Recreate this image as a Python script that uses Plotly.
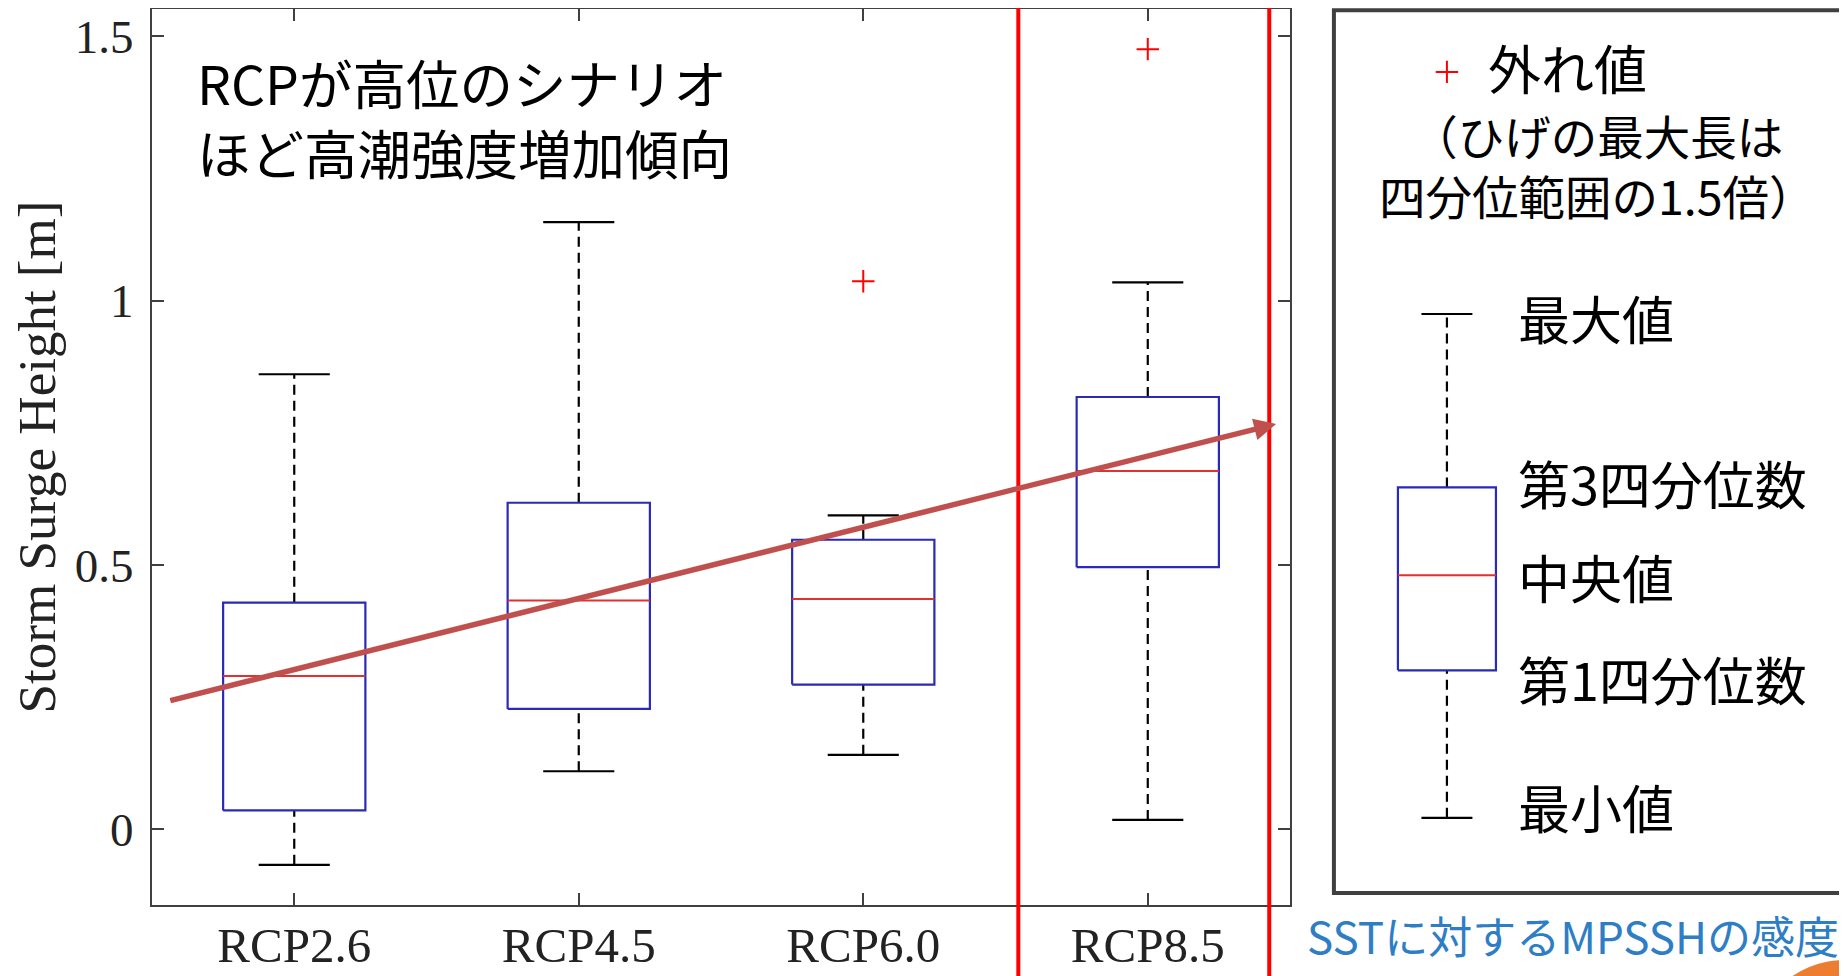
import plotly.graph_objects as go

# scenario boxes (Storm Surge Height [m])
scenarios = ["RCP2.6", "RCP4.5", "RCP6.0", "RCP8.5"]
whisker_low = [-0.067, 0.110, 0.141, 0.018]
quart_1 = [0.036, 0.228, 0.274, 0.496]
medians = [0.290, 0.433, 0.436, 0.678]
quart_3 = [0.429, 0.618, 0.548, 0.818]
whisker_high = [0.861, 1.149, 0.594, 1.035]
outlier_cat = ["RCP6.0", "RCP8.5"]
outlier_val = [1.037, 1.476]

y_ticks = [0, 0.5, 1, 1.5]
y_ticktext = ["0", "0.5", "1", "1.5"]

# trend arrow (start, end) in axis units
trend_x = [0.559, 4.451]
trend_y = [0.243, 0.767]

# highlighted RCP8.5 column edges
band_x = [3.545, 4.427]

# legend sample box
legend_box = {"low": 0.022, "q1": 0.301, "med": 0.481, "q3": 0.647, "high": 0.975}
legend_outlier = 1.433
legend_labels = ["最大値", "第3四分位数", "中央値", "第1四分位数", "最小値"]
legend_label_y = [0.969, 0.657, 0.479, 0.286, 0.044]

BOX_BLUE = "#2a2ab8"
MED_RED = "#e03030"
AXIS = "#404040"
SERIF = "Liberation Serif"
JP = "Noto Sans CJK JP"


def add_boxes(fig, xs, lo, q1, med, q3, hi, half, cap, xaxis="x"):
    bx, by, mx, my, wx, wy, cx, cy = [], [], [], [], [], [], [], []
    for x, a, b, c, d, e in zip(xs, lo, q1, med, q3, hi):
        bx += [x - half, x + half, x + half, x - half, x - half, None]
        by += [b, b, d, d, b, None]
        mx += [x - half, x + half, None]
        my += [c, c, None]
        wx += [x, x, None, x, x, None]
        wy += [d, e, None, a, b, None]
        cx += [x - cap, x + cap, None, x - cap, x + cap, None]
        cy += [e, e, None, a, a, None]

    fig.add_trace(go.Scatter(x=wx, y=wy, mode="lines", xaxis=xaxis, yaxis="y",
                             line=dict(color="black", width=2.2, dash="10px,6px"), hoverinfo="skip"))
    fig.add_trace(go.Scatter(x=cx, y=cy, mode="lines", xaxis=xaxis, yaxis="y",
                             line=dict(color="black", width=2.2), hoverinfo="skip"))
    fig.add_trace(go.Scatter(x=bx, y=by, mode="lines", xaxis=xaxis, yaxis="y",
                             line=dict(color=BOX_BLUE, width=2.2), hoverinfo="skip"))
    fig.add_trace(go.Scatter(x=mx, y=my, mode="lines", xaxis=xaxis, yaxis="y",
                             line=dict(color=MED_RED, width=2), hoverinfo="skip"))


fig = go.Figure()

pos = [i + 1 for i in range(len(scenarios))]
add_boxes(fig, pos, whisker_low, quart_1, medians, quart_3, whisker_high, 0.25, 0.125)

fig.add_trace(go.Scatter(
    x=[scenarios.index(c) + 1 for c in outlier_cat], y=outlier_val, mode="markers",
    marker=dict(symbol="cross-thin", size=16, line=dict(color="red", width=2)),
))

# legend sample on its own x axis
add_boxes(fig, [0], [legend_box["low"]], [legend_box["q1"]], [legend_box["med"]],
          [legend_box["q3"]], [legend_box["high"]], 0.25, 0.13, xaxis="x2")
fig.add_trace(go.Scatter(
    x=[0], y=[legend_outlier], mode="markers", xaxis="x2", yaxis="y",
    marker=dict(symbol="cross-thin", size=16, line=dict(color="red", width=2)),
))

annotations = [
    dict(x=trend_x[1], y=trend_y[1], ax=trend_x[0], ay=trend_y[0],
         xref="x", yref="y", axref="x", ayref="y", text="", showarrow=True,
         arrowhead=2, arrowsize=0.8, arrowwidth=5.5, arrowcolor="#c0504d", standoff=0),
    dict(x=0.652, y=1.349, xref="x", yref="y", xanchor="left", yanchor="middle", align="left",
         text="RCPが高位のシナリオ<br>ほど高潮強度増加傾向", showarrow=False,
         font=dict(family=JP, size=53.5, color="black")),
    dict(x=0.198, y=1.443, xref="x2", yref="y", xanchor="left", yanchor="middle",
         text="外れ値", showarrow=False, font=dict(family=JP, size=53, color="black")),
    dict(x=0.77, y=1.258, xref="x2", yref="y", xanchor="center", yanchor="middle", align="center",
         text="（ひげの最大長は<br>四分位範囲の1.5倍）", showarrow=False,
         font=dict(family=JP, size=46.5, color="black")),
    dict(x=0.68, y=-0.034, xref="paper", yref="paper", xanchor="left", yanchor="middle",
         text="SSTに対するMPSSHの感度", showarrow=False,
         font=dict(family=JP, size=44, color="#2e7ec5")),
]
for label, yv in zip(legend_labels, legend_label_y):
    annotations.append(dict(x=0.35, y=yv, xref="x2", yref="y", xanchor="left", yanchor="middle",
                            text=label, showarrow=False, font=dict(family=JP, size=52, color="black")))

shapes = [
    dict(type="rect", xref="paper", yref="paper", x0=0.6973, x1=0.9988, y0=0.0134, y1=0.9985,
         line=dict(color=AXIS, width=4)),
    dict(type="circle", xref="paper", yref="paper", x0=0.944, x1=1.0534, y0=-0.268, y1=-0.0614,
         fillcolor="#ed7d31", line=dict(width=0), layer="above"),
]
for bx in band_x:
    shapes.append(dict(type="line", xref="x", yref="paper", x0=bx, x1=bx, y0=-0.08, y1=1.011,
                       line=dict(color="#ff0000", width=4), layer="above"))

# page body adds an 8px margin, so the figure is 8px smaller than the window
fig.update_layout(
    width=1839, height=968, autosize=False,
    margin=dict(l=144, r=0, t=1, b=71, autoexpand=False),
    template="none", showlegend=False,
    paper_bgcolor="white", plot_bgcolor="white",
    xaxis=dict(domain=[0, 0.6714], range=[0.5, 4.5], tickvals=pos, ticktext=scenarios,
               ticks="inside", ticklen=12, tickwidth=2, tickcolor=AXIS,
               showline=True, linecolor=AXIS, linewidth=2, mirror="ticks",
               showgrid=False, zeroline=False, ticklabelstandoff=-4, automargin=False,
               tickfont=dict(family=SERIF, size=49, color="#222")),
    xaxis2=dict(domain=[0.6973, 1], range=[-0.5765, 2.041], anchor="y", visible=False),
    yaxis=dict(range=[-0.143, 1.552], tickvals=y_ticks, ticktext=y_ticktext,
               ticks="inside", ticklen=12, tickwidth=2, tickcolor=AXIS,
               showline=True, linecolor=AXIS, linewidth=2, mirror="ticks",
               showgrid=False, zeroline=False, ticklabelstandoff=7, automargin=False,
               tickfont=dict(family=SERIF, size=47, color="#222")),
    annotations=annotations,
    shapes=shapes,
)
fig.update_yaxes(title=dict(text="Storm Surge Height [m]", standoff=2,
                            font=dict(family=SERIF, size=53, color="#222")))

fig.write_html("out.html")
